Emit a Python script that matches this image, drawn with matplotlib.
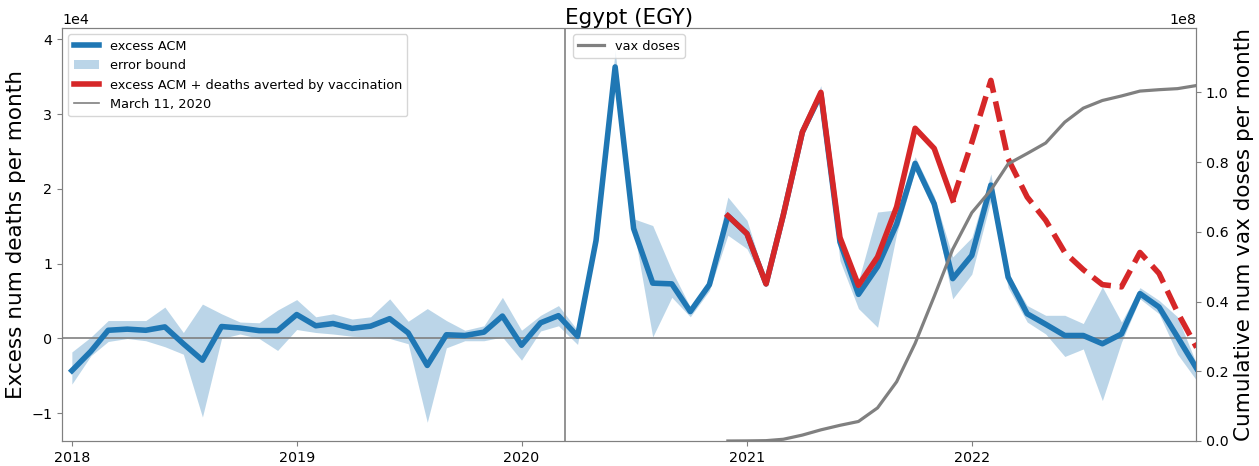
import matplotlib
matplotlib.use("Agg")
import matplotlib.pyplot as plt
import matplotlib.dates as mdates
import pandas as pd

# monthly points, Jan 2018 .. Jan 2023
months = pd.date_range("2018-01-01", "2023-01-01", freq="MS")

excess_acm = [
    -4300, -1700, 1100, 1250, 1100, 1550, -700, -2900, 1600, 1400, 1050, 1050,
    3200, 1700, 2000, 1350, 1650, 2650, 750, -3600, 500, 400, 850, 3000,
    -900, 2100, 3050, 300, 13100, 36300, 14700, 7400, 7300, 3600, 7200, 16400,
    14000, 7300, 16500, 27600, 32700, 12900, 5900, 9600, 15300, 23400, 18000, 8000,
    11100, 20500, 8200, 3300, 1900, 400, 400, -700, 600, 6000, 4200, 200,
    -4000,
]
upper_bound = [
    -1800, 200, 2400, 2400, 2400, 4200, 800, 4600, 3300, 2200, 2100, 3800,
    5200, 2900, 3300, 2600, 2900, 5300, 2300, 4000, 2400, 1100, 1700, 5500,
    1100, 3100, 4400, 1100, 13500, 38500, 16000, 15100, 9100, 4200, 7800, 18900,
    15800, 7700, 17000, 28000, 33800, 14000, 7700, 16900, 17200, 24300, 19000, 10900,
    13500, 22000, 8700, 4400, 3100, 3100, 2000, 6900, 2200, 6800, 5100, 2900,
    -3400,
]
lower_bound = [
    -6100, -2300, -400, 0, -300, -1100, -2100, -10500, 0, 600, 0, -1600,
    1200, 800, 600, 300, 200, 0, -700, -11200, -1250, -300, -300, 200,
    -2900, 1000, 1700, -800, 12700, 35000, 14700, 200, 5500, 2900, 6400, 13800,
    12000, 6900, 16000, 27200, 32000, 10400, 4000, 1500, 14000, 22500, 17000, 5300,
    8600, 18500, 6800, 2200, 600, -2400, -1400, -8300, -500, 5300, 3300, -2100,
    -5600,
]

# excess ACM + deaths averted, Dec 2020 .. Jan 2023
averted_months = pd.date_range("2020-12-01", "2023-01-01", freq="MS")
excess_plus_averted = [
    16400, 14000, 7300, 16500, 27600, 32900, 13500, 7100, 10900, 17600, 28100, 25400, 18500,
    26200, 34500, 24000, 18900, 15800, 11500, 9200, 7200, 6900, 11500, 8700, 3500,
    -1200,
]
n_solid = 13  # solid through Dec 2021, dashed afterwards

# cumulative vaccine doses, Dec 2020 .. Jan 2023
vax_doses = [
    0.0, 0.0003e8, 0.001e8, 0.005e8, 0.017e8, 0.032e8, 0.045e8, 0.056e8, 0.095e8,
    0.17e8, 0.28e8, 0.415e8, 0.55e8, 0.655e8, 0.72e8, 0.795e8, 0.825e8, 0.855e8,
    0.915e8, 0.955e8, 0.977e8, 0.99e8, 1.004e8, 1.008e8, 1.011e8, 1.02e8,
]

pandemic_start = pd.Timestamp("2020-03-11")

fig = plt.figure(figsize=(12.59, 4.66), dpi=100)
ax = fig.add_axes([62 / 1259, 1 - 441 / 466, (1196 - 62) / 1259, (441 - 28) / 466])

ax.plot(months, excess_acm, color="tab:blue", lw=4, label="excess ACM", zorder=3)
ax.fill_between(months, lower_bound, upper_bound, color="tab:blue", alpha=0.3,
                lw=0, label="error bound")
ax.plot(averted_months[:n_solid], excess_plus_averted[:n_solid], color="tab:red", lw=4,
        label="excess ACM + deaths averted by vaccination", zorder=4)
ax.plot(averted_months[n_solid - 1:], excess_plus_averted[n_solid - 1:], color="tab:red",
        lw=4, ls="--", zorder=4)
ax.axvline(pandemic_start, color="gray", lw=1.2, label="March 11, 2020")
ax.axhline(0, color="gray", lw=1.2)

ax.set_xlim(pd.Timestamp("2017-12-16"), pd.Timestamp("2022-12-31"))
ax.set_ylim(-13700, 41500)
ax.xaxis.set_major_locator(mdates.YearLocator())
ax.xaxis.set_major_formatter(mdates.DateFormatter("%Y"))
ax.ticklabel_format(axis="y", style="sci", scilimits=(0, 0))
ax.set_ylabel("Excess num deaths per month", fontsize=15.5)
ax.set_title("Egypt (EGY)", fontsize=15.5, pad=3)
ax.tick_params(axis="both", labelsize=10.3, color="gray")
ax.yaxis.get_offset_text().set_fontsize(10.3)
ax.legend(loc="upper left", fontsize=9.3)

ax2 = ax.twinx()
ax2.plot(averted_months, vax_doses, color="gray", lw=2.3, label="vax doses")
ax2.set_ylim(0, 1.185e8)
ax2.set_ylabel("Cumulative num vax doses per month", fontsize=15.5)
ax2.tick_params(axis="y", labelsize=10.3, color="gray")
ax2.yaxis.get_offset_text().set_fontsize(10.3)
ax2.legend(loc="upper center", fontsize=9.3)

for a in (ax, ax2):
    for sp in a.spines.values():
        sp.set_color("gray")

fig.savefig("out.png", dpi=100)
